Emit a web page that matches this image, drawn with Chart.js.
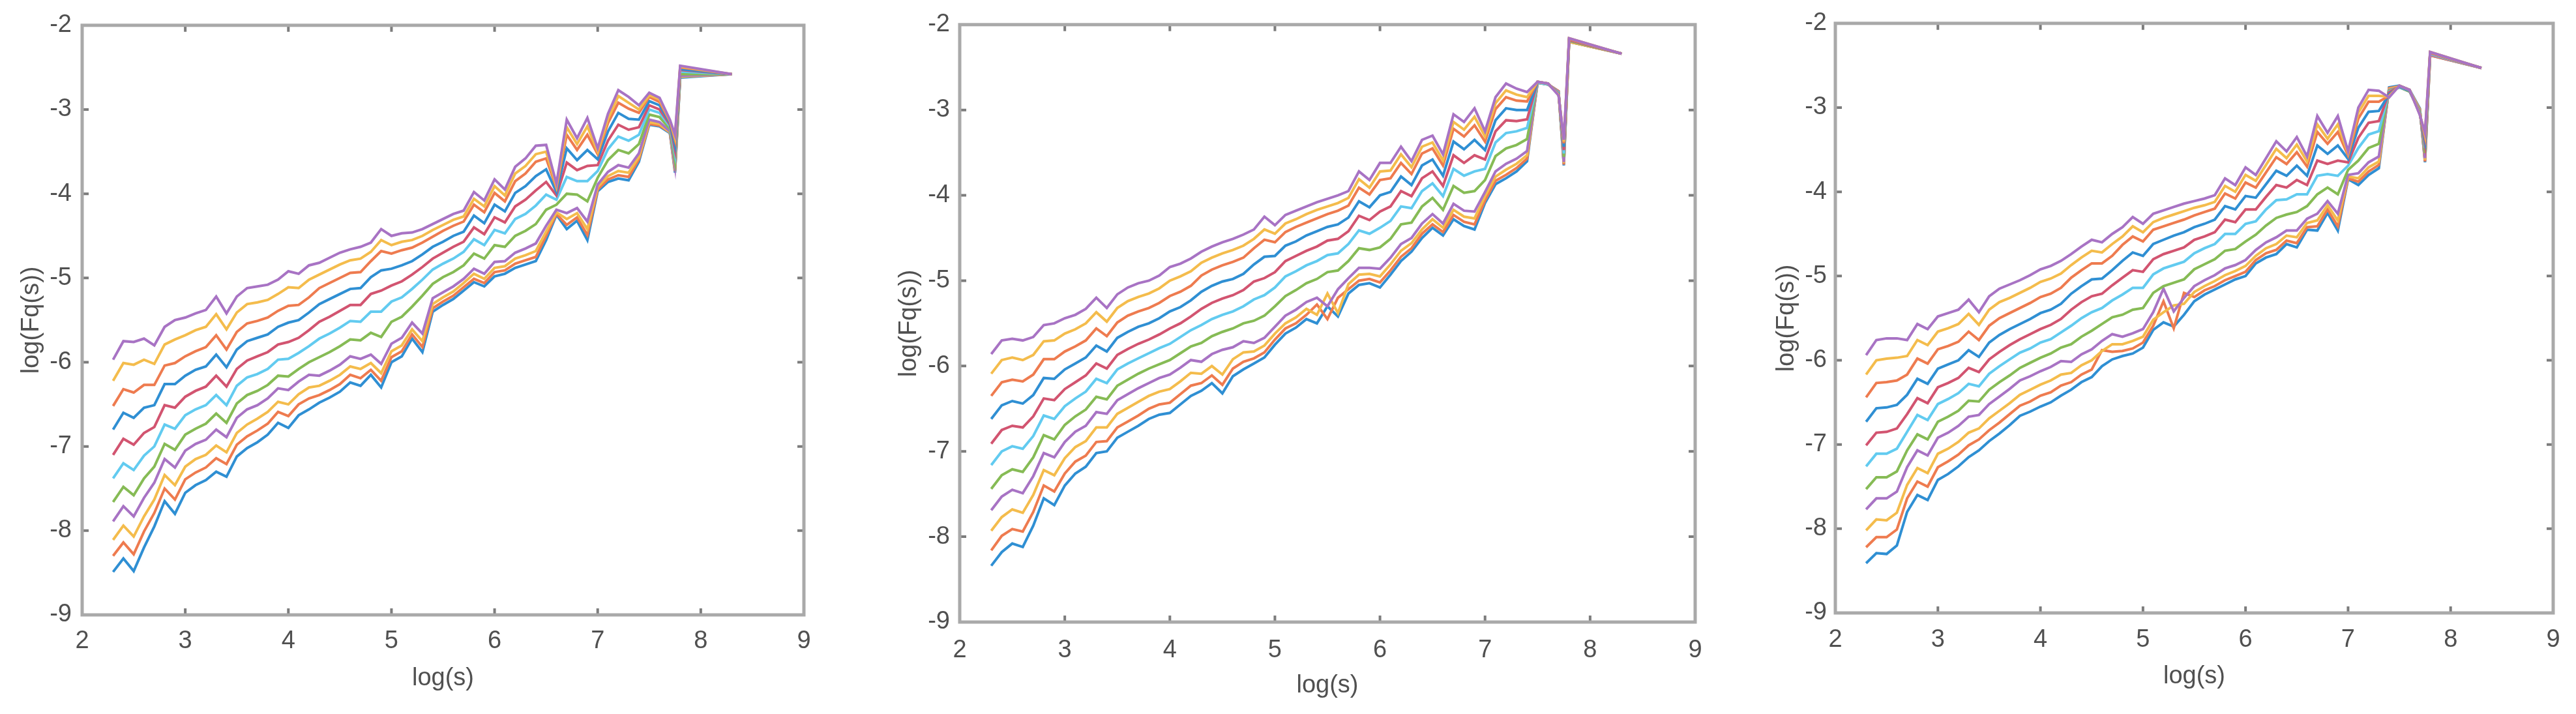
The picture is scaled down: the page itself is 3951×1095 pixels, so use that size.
<!DOCTYPE html>
<html>
<head>
<meta charset="utf-8">
<title>log(Fq(s)) vs log(s)</title>
<script src="https://cdn.jsdelivr.net/npm/chart.js@4.4.1/dist/chart.umd.min.js"></script>
<style>
  html, body { margin: 0; padding: 0; background: #fff; }
  #wrap { position: relative; width: 3951px; height: 1095px; overflow: hidden; background: #fff; }
  canvas { position: absolute; top: 0; }
</style>
</head>
<body>
<div id="wrap">
  <canvas id="chartA" width="1300" height="1095" style="left:0px"></canvas>
  <canvas id="chartB" width="1330" height="1095" style="left:1320px"></canvas>
  <canvas id="chartC" width="1291" height="1095" style="left:2660px"></canvas>
</div>
<script>
// x values, log(s)
var logS = [2.3,2.4,2.5,2.6,2.7,2.8,2.9,
  3.0,3.1,3.2,3.3,3.4,3.5,3.6,3.7,3.8,3.9,
  4.0,4.1,4.2,4.3,4.4,4.5,4.6,4.7,4.8,4.9,
  5.0,5.1,5.2,5.3,5.4,5.5,5.6,5.7,5.8,5.9,
  6.0,6.1,6.2,6.3,6.4,6.5,6.6,6.7,6.8,6.9,
  7.0,7.1,7.2,7.3,7.4,7.5,7.6,7.7,
  7.75,7.8,8.3];

var xTickVals = [2, 3, 4, 5, 6, 7, 8, 9];
var yTickVals = [-9, -8, -7, -6, -5, -4, -3, -2];

// ---- left panel, log(Fq(s)), lowest curve first ----
var fqA0 = [-8.49,-8.33,-8.48,-8.20,-7.95,-7.65,-7.80,
  -7.55,-7.46,-7.40,-7.30,-7.36,-7.12,-7.02,-6.95,-6.86,-6.72,
  -6.78,-6.63,-6.56,-6.48,-6.42,-6.35,-6.24,-6.28,-6.15,-6.30,
  -6.00,-5.93,-5.72,-5.88,-5.40,-5.32,-5.25,-5.15,-5.05,-5.10,
  -4.98,-4.95,-4.88,-4.84,-4.80,-4.55,-4.25,-4.42,-4.32,-4.55,
  -3.97,-3.86,-3.82,-3.84,-3.62,-3.18,-3.20,-3.28,
  -3.75,-2.62,-2.58];
var fqA1 = [-8.30,-8.14,-8.28,-8.01,-7.79,-7.50,-7.63,
  -7.39,-7.31,-7.25,-7.14,-7.21,-6.98,-6.88,-6.81,-6.73,-6.59,
  -6.64,-6.50,-6.43,-6.39,-6.33,-6.26,-6.15,-6.19,-6.09,-6.22,
  -5.94,-5.87,-5.67,-5.82,-5.36,-5.28,-5.21,-5.11,-5.01,-5.06,
  -4.93,-4.91,-4.83,-4.79,-4.75,-4.50,-4.24,-4.37,-4.28,-4.49,
  -3.95,-3.83,-3.78,-3.80,-3.59,-3.17,-3.19,-3.27,
  -3.73,-2.61,-2.58];
var fqA2 = [-8.11,-7.94,-8.07,-7.83,-7.63,-7.34,-7.46,
  -7.24,-7.15,-7.10,-6.99,-7.07,-6.84,-6.74,-6.67,-6.59,-6.47,
  -6.50,-6.38,-6.30,-6.28,-6.22,-6.15,-6.05,-6.08,-6.01,-6.13,
  -5.87,-5.80,-5.61,-5.75,-5.31,-5.23,-5.16,-5.06,-4.95,-5.01,
  -4.88,-4.86,-4.77,-4.73,-4.68,-4.45,-4.22,-4.30,-4.23,-4.42,
  -3.92,-3.79,-3.73,-3.75,-3.56,-3.15,-3.17,-3.27,
  -3.71,-2.61,-2.58];
var fqA3 = [-7.89,-7.71,-7.83,-7.61,-7.43,-7.15,-7.25,
  -7.05,-6.97,-6.92,-6.80,-6.89,-6.66,-6.56,-6.51,-6.43,-6.31,
  -6.33,-6.23,-6.15,-6.16,-6.10,-6.03,-5.93,-5.96,-5.91,-6.02,
  -5.78,-5.71,-5.53,-5.66,-5.24,-5.17,-5.10,-5.01,-4.89,-4.95,
  -4.81,-4.80,-4.70,-4.65,-4.59,-4.38,-4.19,-4.23,-4.17,-4.33,
  -3.89,-3.74,-3.66,-3.69,-3.52,-3.12,-3.15,-3.26,
  -3.68,-2.60,-2.58];
var fqA4 = [-7.66,-7.48,-7.58,-7.38,-7.24,-6.97,-7.04,
  -6.86,-6.79,-6.73,-6.61,-6.72,-6.49,-6.39,-6.34,-6.27,-6.16,
  -6.17,-6.08,-6.00,-5.94,-5.88,-5.81,-5.73,-5.74,-5.65,-5.70,
  -5.52,-5.46,-5.34,-5.21,-5.07,-4.99,-4.93,-4.85,-4.71,-4.77,
  -4.61,-4.63,-4.50,-4.44,-4.36,-4.19,-4.13,-4.00,-4.01,-4.09,
  -3.81,-3.60,-3.48,-3.52,-3.41,-3.06,-3.09,-3.23,
  -3.61,-2.58,-2.58];
var fqA5 = [-7.38,-7.20,-7.28,-7.11,-7.00,-6.74,-6.79,
  -6.63,-6.56,-6.51,-6.39,-6.51,-6.28,-6.18,-6.14,-6.08,-5.97,
  -5.96,-5.89,-5.81,-5.72,-5.66,-5.59,-5.51,-5.52,-5.40,-5.40,
  -5.28,-5.23,-5.13,-5.02,-4.90,-4.83,-4.77,-4.69,-4.54,-4.61,
  -4.43,-4.47,-4.30,-4.24,-4.14,-4.01,-4.07,-3.80,-3.85,-3.85,
  -3.73,-3.47,-3.32,-3.37,-3.30,-3.00,-3.04,-3.20,
  -3.53,-2.55,-2.58];
var fqA6 = [-7.10,-6.91,-6.98,-6.84,-6.77,-6.51,-6.54,
  -6.41,-6.34,-6.29,-6.16,-6.29,-6.08,-5.98,-5.93,-5.88,-5.79,
  -5.76,-5.71,-5.62,-5.52,-5.46,-5.39,-5.32,-5.32,-5.19,-5.15,
  -5.09,-5.04,-4.96,-4.87,-4.77,-4.70,-4.63,-4.57,-4.40,-4.48,
  -4.28,-4.34,-4.15,-4.07,-3.96,-3.86,-4.02,-3.63,-3.72,-3.67,
  -3.66,-3.37,-3.18,-3.24,-3.21,-2.95,-3.00,-3.18,
  -3.48,-2.53,-2.58];
var fqA7 = [-6.80,-6.60,-6.66,-6.54,-6.51,-6.26,-6.26,
  -6.16,-6.09,-6.05,-5.91,-6.06,-5.85,-5.75,-5.71,-5.67,-5.58,
  -5.53,-5.50,-5.41,-5.31,-5.25,-5.19,-5.13,-5.12,-4.99,-4.91,
  -4.89,-4.85,-4.80,-4.72,-4.63,-4.57,-4.50,-4.45,-4.26,-4.35,
  -4.13,-4.21,-3.99,-3.91,-3.79,-3.71,-3.98,-3.46,-3.60,-3.48,
  -3.59,-3.26,-3.04,-3.11,-3.12,-2.90,-2.95,-3.16,
  -3.42,-2.52,-2.58];
var fqA8 = [-6.52,-6.32,-6.36,-6.27,-6.27,-6.04,-6.01,
  -5.93,-5.87,-5.82,-5.68,-5.85,-5.64,-5.54,-5.51,-5.47,-5.39,
  -5.33,-5.32,-5.23,-5.12,-5.06,-5.00,-4.94,-4.93,-4.80,-4.68,
  -4.71,-4.67,-4.64,-4.58,-4.51,-4.44,-4.38,-4.33,-4.13,-4.22,
  -3.99,-4.09,-3.85,-3.76,-3.62,-3.58,-3.93,-3.30,-3.48,-3.30,
  -3.53,-3.16,-2.92,-2.99,-3.04,-2.85,-2.91,-3.14,
  -3.36,-2.50,-2.58];
var fqA9 = [-6.22,-6.01,-6.03,-5.97,-6.02,-5.79,-5.73,
  -5.68,-5.62,-5.58,-5.43,-5.61,-5.41,-5.31,-5.29,-5.26,-5.19,
  -5.11,-5.12,-5.02,-4.96,-4.90,-4.84,-4.79,-4.77,-4.69,-4.55,
  -4.61,-4.57,-4.55,-4.50,-4.43,-4.37,-4.31,-4.27,-4.06,-4.15,
  -3.91,-4.02,-3.76,-3.67,-3.53,-3.50,-3.91,-3.21,-3.41,-3.20,
  -3.50,-3.11,-2.84,-2.92,-3.00,-2.83,-2.88,-3.13,
  -3.33,-2.49,-2.58];
var fqA10 = [-5.97,-5.75,-5.76,-5.72,-5.80,-5.58,-5.50,
  -5.47,-5.42,-5.38,-5.22,-5.42,-5.22,-5.12,-5.10,-5.08,-5.02,
  -4.92,-4.95,-4.85,-4.82,-4.76,-4.70,-4.66,-4.63,-4.58,-4.42,
  -4.50,-4.47,-4.46,-4.42,-4.36,-4.30,-4.24,-4.20,-3.98,-4.08,
  -3.83,-3.95,-3.68,-3.58,-3.43,-3.42,-3.88,-3.12,-3.34,-3.10,
  -3.46,-3.05,-2.77,-2.85,-2.95,-2.80,-2.86,-3.12,
  -3.30,-2.48,-2.58];

// ---- middle panel ----
var fqB0 = [-8.34,-8.18,-8.08,-8.12,-7.87,-7.55,-7.63,
  -7.40,-7.26,-7.18,-7.02,-7.00,-6.84,-6.77,-6.70,-6.62,-6.57,
  -6.55,-6.45,-6.35,-6.29,-6.20,-6.32,-6.12,-6.04,-5.97,-5.90,
  -5.75,-5.62,-5.55,-5.45,-5.50,-5.30,-5.42,-5.15,-5.05,-5.03,
  -5.08,-4.93,-4.77,-4.66,-4.50,-4.38,-4.47,-4.28,-4.36,-4.40,
  -4.09,-3.87,-3.80,-3.72,-3.60,-2.68,-2.70,-2.78,
  -3.65,-2.20,-2.34];
var fqB1 = [-8.16,-7.99,-7.91,-7.94,-7.71,-7.40,-7.47,
  -7.26,-7.12,-7.05,-6.89,-6.88,-6.72,-6.65,-6.58,-6.50,-6.45,
  -6.43,-6.33,-6.23,-6.20,-6.11,-6.22,-6.03,-5.95,-5.91,-5.84,
  -5.69,-5.56,-5.50,-5.40,-5.28,-5.45,-5.20,-5.10,-5.00,-4.98,
  -5.02,-4.88,-4.72,-4.62,-4.45,-4.34,-4.43,-4.23,-4.31,-4.34,
  -4.06,-3.83,-3.76,-3.68,-3.57,-2.68,-2.70,-2.78,
  -3.64,-2.20,-2.34];
var fqB2 = [-7.93,-7.77,-7.68,-7.72,-7.51,-7.22,-7.28,
  -7.08,-6.95,-6.88,-6.72,-6.72,-6.56,-6.49,-6.42,-6.35,-6.30,
  -6.27,-6.18,-6.08,-6.09,-6.00,-6.10,-5.92,-5.84,-5.83,-5.76,
  -5.62,-5.50,-5.43,-5.33,-5.40,-5.15,-5.38,-5.04,-4.93,-4.92,
  -4.95,-4.81,-4.65,-4.56,-4.40,-4.28,-4.38,-4.17,-4.25,-4.27,
  -4.01,-3.78,-3.70,-3.63,-3.53,-2.68,-2.70,-2.79,
  -3.62,-2.20,-2.34];
var fqB3 = [-7.69,-7.53,-7.45,-7.49,-7.29,-7.02,-7.07,
  -6.89,-6.77,-6.70,-6.54,-6.56,-6.40,-6.33,-6.26,-6.20,-6.14,
  -6.10,-6.02,-5.93,-5.95,-5.86,-5.81,-5.78,-5.71,-5.73,-5.67,
  -5.54,-5.41,-5.34,-5.25,-5.20,-5.30,-5.10,-4.97,-4.85,-4.85,
  -4.86,-4.73,-4.57,-4.50,-4.33,-4.22,-4.33,-4.10,-4.18,-4.19,
  -3.96,-3.72,-3.63,-3.57,-3.48,-2.68,-2.70,-2.79,
  -3.61,-2.19,-2.34];
var fqB4 = [-7.44,-7.28,-7.21,-7.24,-7.07,-6.81,-6.86,
  -6.69,-6.59,-6.51,-6.36,-6.39,-6.23,-6.16,-6.09,-6.03,-5.98,
  -5.93,-5.85,-5.77,-5.73,-5.65,-5.60,-5.56,-5.50,-5.47,-5.41,
  -5.30,-5.18,-5.11,-5.03,-4.98,-4.90,-4.88,-4.77,-4.62,-4.64,
  -4.61,-4.51,-4.34,-4.32,-4.13,-4.03,-4.17,-3.89,-3.97,-3.95,
  -3.82,-3.54,-3.45,-3.41,-3.34,-2.68,-2.70,-2.80,
  -3.55,-2.19,-2.34];
var fqB5 = [-7.16,-7.00,-6.94,-6.97,-6.82,-6.58,-6.62,
  -6.47,-6.38,-6.30,-6.15,-6.20,-6.04,-5.97,-5.91,-5.85,-5.79,
  -5.74,-5.66,-5.58,-5.52,-5.45,-5.40,-5.36,-5.30,-5.22,-5.17,
  -5.08,-4.95,-4.89,-4.82,-4.77,-4.70,-4.68,-4.57,-4.41,-4.45,
  -4.38,-4.30,-4.13,-4.15,-3.95,-3.86,-4.01,-3.69,-3.77,-3.72,
  -3.69,-3.38,-3.27,-3.25,-3.21,-2.68,-2.70,-2.80,
  -3.51,-2.18,-2.34];
var fqB6 = [-6.91,-6.75,-6.70,-6.72,-6.59,-6.38,-6.40,
  -6.27,-6.19,-6.11,-5.97,-6.03,-5.87,-5.80,-5.74,-5.69,-5.63,
  -5.56,-5.50,-5.42,-5.33,-5.26,-5.21,-5.17,-5.11,-5.01,-4.97,
  -4.90,-4.77,-4.71,-4.65,-4.60,-4.53,-4.51,-4.42,-4.24,-4.29,
  -4.19,-4.13,-3.95,-4.01,-3.80,-3.72,-3.89,-3.53,-3.62,-3.53,
  -3.58,-3.25,-3.12,-3.13,-3.11,-2.67,-2.69,-2.81,
  -3.47,-2.18,-2.34];
var fqB7 = [-6.62,-6.46,-6.41,-6.44,-6.34,-6.14,-6.15,
  -6.04,-5.97,-5.90,-5.76,-5.83,-5.67,-5.60,-5.54,-5.50,-5.44,
  -5.36,-5.31,-5.23,-5.13,-5.06,-5.01,-4.98,-4.92,-4.81,-4.72,
  -4.71,-4.59,-4.54,-4.47,-4.42,-4.37,-4.34,-4.26,-4.07,-4.14,
  -4.00,-3.96,-3.78,-3.88,-3.65,-3.58,-3.77,-3.37,-3.46,-3.35,
  -3.47,-3.12,-2.98,-3.00,-3.00,-2.67,-2.69,-2.81,
  -3.43,-2.17,-2.34];
var fqB8 = [-6.35,-6.19,-6.16,-6.18,-6.10,-5.92,-5.92,
  -5.83,-5.77,-5.70,-5.56,-5.65,-5.49,-5.41,-5.36,-5.32,-5.26,
  -5.18,-5.13,-5.06,-4.94,-4.87,-4.82,-4.78,-4.73,-4.62,-4.52,
  -4.55,-4.43,-4.37,-4.32,-4.27,-4.22,-4.18,-4.12,-3.91,-3.99,
  -3.82,-3.80,-3.62,-3.75,-3.51,-3.45,-3.65,-3.22,-3.31,-3.18,
  -3.37,-2.99,-2.85,-2.89,-2.90,-2.67,-2.69,-2.82,
  -3.39,-2.17,-2.34];
var fqB9 = [-6.09,-5.93,-5.90,-5.93,-5.87,-5.71,-5.70,
  -5.62,-5.57,-5.50,-5.37,-5.48,-5.32,-5.24,-5.19,-5.15,-5.09,
  -5.00,-4.95,-4.89,-4.79,-4.73,-4.68,-4.64,-4.59,-4.51,-4.40,
  -4.45,-4.33,-4.28,-4.22,-4.17,-4.13,-4.09,-4.03,-3.81,-3.91,
  -3.72,-3.71,-3.52,-3.67,-3.43,-3.38,-3.59,-3.14,-3.23,-3.08,
  -3.31,-2.92,-2.77,-2.82,-2.85,-2.67,-2.69,-2.82,
  -3.37,-2.16,-2.34];
var fqB10 = [-5.86,-5.70,-5.68,-5.70,-5.66,-5.52,-5.50,
  -5.44,-5.40,-5.33,-5.20,-5.32,-5.16,-5.08,-5.03,-5.00,-4.94,
  -4.84,-4.80,-4.74,-4.66,-4.60,-4.55,-4.51,-4.46,-4.40,-4.25,
  -4.35,-4.23,-4.18,-4.13,-4.08,-4.04,-4.00,-3.95,-3.72,-3.82,
  -3.62,-3.62,-3.43,-3.60,-3.35,-3.30,-3.52,-3.05,-3.14,-2.98,
  -3.25,-2.85,-2.69,-2.75,-2.79,-2.67,-2.69,-2.83,
  -3.35,-2.16,-2.34];

// ---- right panel ----
var fqC0 = [-8.41,-8.29,-8.30,-8.20,-7.80,-7.60,-7.66,
  -7.42,-7.35,-7.26,-7.15,-7.07,-6.96,-6.87,-6.77,-6.66,-6.61,
  -6.55,-6.50,-6.42,-6.35,-6.26,-6.20,-6.07,-5.99,-5.95,-5.92,
  -5.85,-5.64,-5.55,-5.60,-5.46,-5.30,-5.22,-5.16,-5.10,-5.04,
  -5.00,-4.85,-4.78,-4.74,-4.62,-4.66,-4.45,-4.46,-4.25,-4.46,
  -3.85,-3.92,-3.80,-3.72,-2.76,-2.74,-2.79,-3.01,
  -3.65,-2.38,-2.53];
var fqC1 = [-8.22,-8.10,-8.10,-8.01,-7.64,-7.44,-7.50,
  -7.27,-7.20,-7.12,-7.01,-6.94,-6.83,-6.74,-6.64,-6.54,-6.49,
  -6.42,-6.38,-6.30,-6.26,-6.17,-6.11,-5.88,-5.90,-5.89,-5.86,
  -5.79,-5.59,-5.30,-5.62,-5.20,-5.25,-5.17,-5.12,-5.05,-5.00,
  -4.95,-4.81,-4.73,-4.69,-4.58,-4.61,-4.42,-4.41,-4.21,-4.41,
  -3.84,-3.88,-3.76,-3.68,-2.77,-2.75,-2.80,-3.02,
  -3.64,-2.38,-2.53];
var fqC2 = [-8.02,-7.89,-7.90,-7.81,-7.48,-7.28,-7.34,
  -7.11,-7.05,-6.97,-6.86,-6.81,-6.69,-6.60,-6.51,-6.41,-6.35,
  -6.29,-6.24,-6.17,-6.15,-6.06,-6.00,-5.89,-5.81,-5.81,-5.77,
  -5.72,-5.52,-5.43,-5.35,-5.33,-5.19,-5.12,-5.06,-4.99,-4.94,
  -4.88,-4.76,-4.67,-4.62,-4.52,-4.54,-4.37,-4.34,-4.16,-4.34,
  -3.82,-3.84,-3.71,-3.64,-2.78,-2.75,-2.80,-3.03,
  -3.62,-2.37,-2.53];
var fqC3 = [-7.77,-7.64,-7.64,-7.56,-7.27,-7.07,-7.13,
  -6.92,-6.86,-6.78,-6.67,-6.65,-6.52,-6.43,-6.34,-6.24,-6.19,
  -6.13,-6.08,-6.01,-6.02,-5.93,-5.87,-5.77,-5.69,-5.72,-5.68,
  -5.63,-5.43,-5.15,-5.42,-5.26,-5.12,-5.05,-4.99,-4.91,-4.87,
  -4.81,-4.69,-4.60,-4.54,-4.46,-4.46,-4.32,-4.26,-4.11,-4.26,
  -3.80,-3.78,-3.65,-3.58,-2.79,-2.76,-2.81,-3.04,
  -3.60,-2.37,-2.53];
var fqC4 = [-7.53,-7.39,-7.39,-7.32,-7.07,-6.88,-6.94,
  -6.73,-6.67,-6.60,-6.48,-6.49,-6.35,-6.26,-6.18,-6.09,-6.03,
  -5.97,-5.92,-5.85,-5.81,-5.72,-5.65,-5.57,-5.49,-5.46,-5.40,
  -5.38,-5.20,-5.12,-5.08,-5.04,-4.92,-4.86,-4.80,-4.70,-4.68,
  -4.59,-4.51,-4.40,-4.31,-4.27,-4.24,-4.17,-4.03,-3.95,-4.03,
  -3.74,-3.63,-3.48,-3.43,-2.80,-2.76,-2.81,-3.05,
  -3.54,-2.36,-2.53];
var fqC5 = [-7.26,-7.11,-7.11,-7.05,-6.85,-6.65,-6.71,
  -6.52,-6.46,-6.39,-6.28,-6.31,-6.16,-6.07,-5.99,-5.91,-5.86,
  -5.79,-5.75,-5.67,-5.59,-5.50,-5.43,-5.38,-5.29,-5.22,-5.14,
  -5.14,-4.98,-4.91,-4.87,-4.83,-4.73,-4.67,-4.62,-4.50,-4.50,
  -4.38,-4.35,-4.21,-4.10,-4.09,-4.03,-4.03,-3.81,-3.79,-3.81,
  -3.69,-3.48,-3.32,-3.28,-2.81,-2.76,-2.80,-3.06,
  -3.48,-2.36,-2.53];
var fqC6 = [-7.01,-6.86,-6.85,-6.81,-6.64,-6.45,-6.51,
  -6.32,-6.27,-6.21,-6.09,-6.14,-5.99,-5.90,-5.82,-5.75,-5.69,
  -5.63,-5.58,-5.51,-5.40,-5.31,-5.24,-5.21,-5.11,-5.02,-4.93,
  -4.95,-4.80,-4.74,-4.70,-4.66,-4.57,-4.53,-4.48,-4.33,-4.36,
  -4.21,-4.21,-4.06,-3.92,-3.95,-3.86,-3.92,-3.63,-3.67,-3.63,
  -3.65,-3.36,-3.18,-3.16,-2.82,-2.75,-2.80,-3.07,
  -3.44,-2.35,-2.53];
var fqC7 = [-6.73,-6.57,-6.56,-6.53,-6.41,-6.22,-6.28,
  -6.10,-6.05,-6.00,-5.88,-5.96,-5.79,-5.70,-5.63,-5.57,-5.51,
  -5.44,-5.40,-5.33,-5.21,-5.12,-5.04,-5.03,-4.93,-4.82,-4.72,
  -4.76,-4.62,-4.57,-4.52,-4.48,-4.42,-4.38,-4.33,-4.17,-4.21,
  -4.05,-4.07,-3.91,-3.75,-3.81,-3.69,-3.81,-3.45,-3.55,-3.45,
  -3.61,-3.24,-3.05,-3.04,-2.84,-2.75,-2.80,-3.07,
  -3.39,-2.35,-2.53];
var fqC8 = [-6.44,-6.27,-6.26,-6.24,-6.17,-5.98,-6.04,
  -5.87,-5.83,-5.78,-5.66,-5.76,-5.59,-5.50,-5.44,-5.38,-5.32,
  -5.25,-5.21,-5.14,-5.02,-4.93,-4.85,-4.85,-4.76,-4.63,-4.53,
  -4.59,-4.45,-4.41,-4.37,-4.33,-4.28,-4.24,-4.20,-4.02,-4.08,
  -3.89,-3.95,-3.77,-3.59,-3.67,-3.53,-3.70,-3.29,-3.43,-3.29,
  -3.57,-3.13,-2.93,-2.93,-2.86,-2.74,-2.79,-3.08,
  -3.35,-2.35,-2.53];
var fqC9 = [-6.17,-6.00,-5.98,-5.97,-5.95,-5.76,-5.82,
  -5.66,-5.62,-5.57,-5.45,-5.58,-5.40,-5.31,-5.26,-5.20,-5.14,
  -5.07,-5.03,-4.97,-4.87,-4.78,-4.70,-4.72,-4.62,-4.53,-4.41,
  -4.48,-4.36,-4.31,-4.27,-4.23,-4.19,-4.16,-4.12,-3.93,-4.00,
  -3.80,-3.87,-3.68,-3.49,-3.60,-3.44,-3.64,-3.20,-3.37,-3.20,
  -3.54,-3.06,-2.86,-2.86,-2.87,-2.74,-2.79,-3.08,
  -3.32,-2.34,-2.53];
var fqC10 = [-5.94,-5.76,-5.74,-5.74,-5.76,-5.57,-5.63,
  -5.48,-5.44,-5.40,-5.28,-5.43,-5.24,-5.15,-5.10,-5.05,-4.99,
  -4.92,-4.88,-4.82,-4.74,-4.65,-4.57,-4.60,-4.50,-4.42,-4.30,
  -4.38,-4.26,-4.22,-4.18,-4.14,-4.11,-4.08,-4.04,-3.84,-3.92,
  -3.71,-3.80,-3.60,-3.40,-3.52,-3.35,-3.58,-3.10,-3.30,-3.10,
  -3.52,-3.00,-2.79,-2.80,-2.88,-2.74,-2.79,-3.09,
  -3.30,-2.34,-2.53];

// MATLAB default colour order (a bit lighter, the picture is blurred)
var lineColors = ['#2f8fd3', '#ee7b4f', '#f4bc4c', '#a873c4', '#86bb55', '#62cbf0', '#d25470'];

Chart.defaults.font.family = "'Liberation Sans', Arial, sans-serif";

// box + inward tick marks, like a matlab axes
var boxPlugin = {
  id: 'matlabBox',
  afterDraw: function(chart) {
    var a = chart.chartArea;
    var ctx = chart.ctx;
    var sx = chart.scales.x, sy = chart.scales.y;
    ctx.save();
    ctx.strokeStyle = '#7c7c7c';
    ctx.lineWidth = 4;
    ctx.beginPath();
    xTickVals.forEach(function(v) {
      if (v <= sx.min || v >= sx.max) return;
      var px = sx.getPixelForValue(v);
      ctx.moveTo(px, a.bottom); ctx.lineTo(px, a.bottom - 10);
      ctx.moveTo(px, a.top); ctx.lineTo(px, a.top + 10);
    });
    yTickVals.forEach(function(v) {
      if (v <= sy.min || v >= sy.max) return;
      var py = sy.getPixelForValue(v);
      ctx.moveTo(a.left, py); ctx.lineTo(a.left + 10, py);
      ctx.moveTo(a.right, py); ctx.lineTo(a.right - 10, py);
    });
    ctx.stroke();
    ctx.strokeStyle = '#a9a9a9';
    ctx.lineWidth = 5;
    ctx.strokeRect(a.left, a.top, a.right - a.left, a.bottom - a.top);
    ctx.restore();
  }
};

var panels = [
  { id: 'chartA', series: [fqA0,fqA1,fqA2,fqA3,fqA4,fqA5,fqA6,fqA7,fqA8,fqA9,fqA10],
    yAxisW: 126, xAxisH: 152, padTop: 31, padRight: 67, yTitlePad: 26, yTickPad: 16, xTickPad: 18, xTitlePad: 32 },
  { id: 'chartB', series: [fqB0,fqB1,fqB2,fqB3,fqB4,fqB5,fqB6,fqB7,fqB8,fqB9,fqB10],
    yAxisW: 152, xAxisH: 141, padTop: 23, padRight: 50, yTitlePad: 52, yTickPad: 15, xTickPad: 21, xTitlePad: 21 },
  { id: 'chartC', series: [fqC0,fqC1,fqC2,fqC3,fqC4,fqC5,fqC6,fqC7,fqC8,fqC9,fqC10],
    yAxisW: 155, xAxisH: 155, padTop: 31, padRight: 35, yTitlePad: 58, yTickPad: 13, xTickPad: 19, xTitlePad: 35 }
];

panels.forEach(function(p) {
  var datasets = p.series.map(function(vals, k) {
    return {
      label: 'q' + k,
      data: vals.map(function(v, i) { return { x: logS[i], y: v }; }),
      borderColor: lineColors[k % lineColors.length],
      backgroundColor: lineColors[k % lineColors.length],
      borderWidth: 4,
      pointRadius: 0,
      tension: 0,
      fill: false,
      order: p.series.length - k   // last series drawn on top
    };
  });

  new Chart(document.getElementById(p.id), {
    type: 'line',
    data: { datasets: datasets },
    options: {
      responsive: false,
      animation: false,
      devicePixelRatio: 1,
      layout: { padding: { top: p.padTop, right: p.padRight, left: 0, bottom: 0 } },
      plugins: { legend: { display: false }, tooltip: { enabled: false } },
      scales: {
        x: {
          type: 'linear', min: 2, max: 9,
          ticks: { stepSize: 1, color: '#505050', font: { size: 38 }, padding: p.xTickPad, maxRotation: 0 },
          grid: { display: false, drawTicks: false },
          border: { display: false },
          title: { display: true, text: 'log(s)', color: '#505050', font: { size: 38 },
                   padding: { top: 0, bottom: p.xTitlePad } },
          afterFit: function(s) { s.height = p.xAxisH; }
        },
        y: {
          type: 'linear', min: -9, max: -2,
          ticks: { stepSize: 1, color: '#505050', font: { size: 38 }, padding: p.yTickPad },
          grid: { display: false, drawTicks: false },
          border: { display: false },
          title: { display: true, text: 'log(Fq(s))', color: '#505050', font: { size: 38 },
                   padding: { top: p.yTitlePad, bottom: 0 } },
          afterFit: function(s) { s.width = p.yAxisW; }
        }
      }
    },
    plugins: [boxPlugin]
  });
});
</script>
</body>
</html>
